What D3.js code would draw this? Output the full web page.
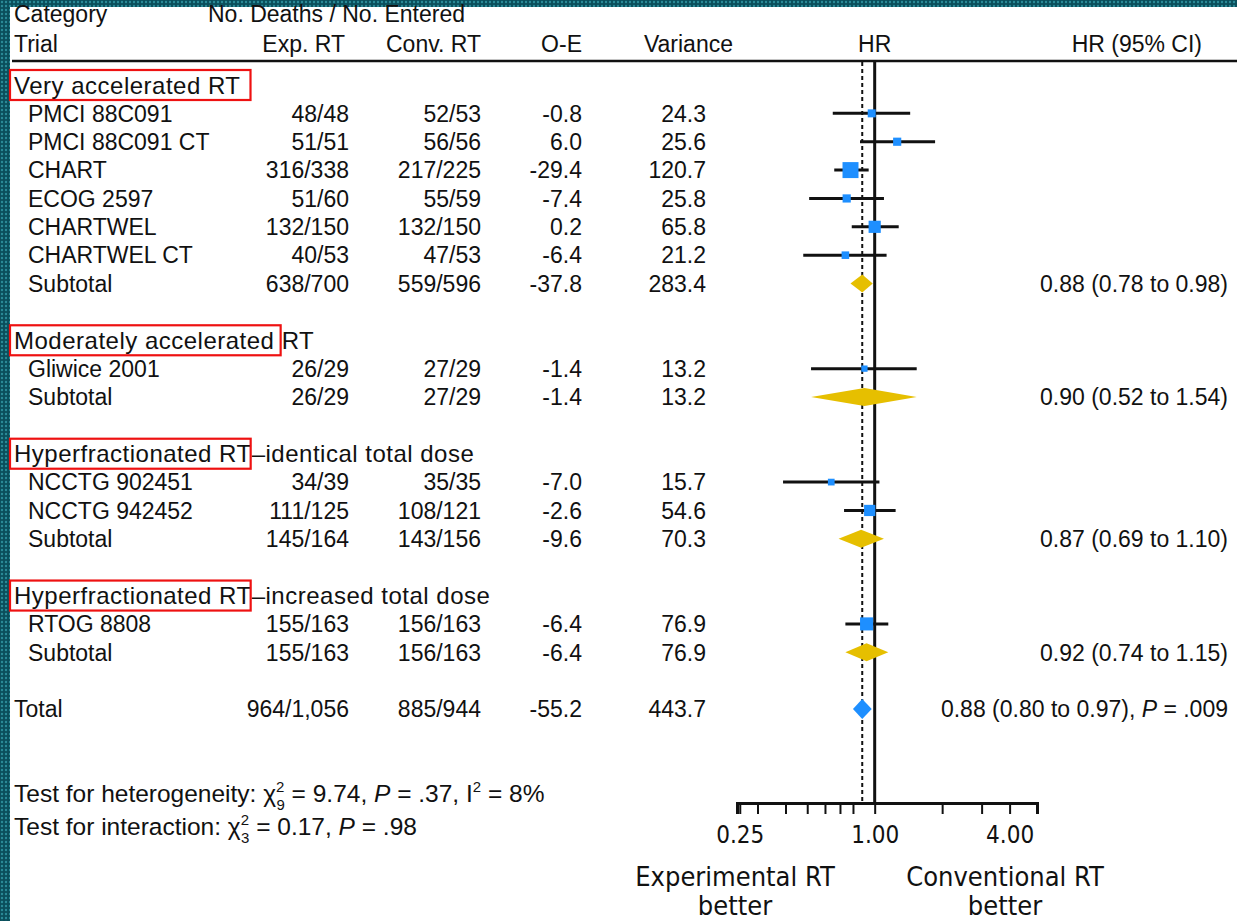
<!DOCTYPE html>
<html>
<head>
<meta charset="utf-8">
<script src="https://cdn.jsdelivr.net/npm/d3@7"></script>
<style>
  html, body { margin: 0; padding: 0; background: #fff; }
  svg { display: block; }
  text { font-family: "Liberation Sans", Arial, sans-serif; fill: #111; white-space: pre; }
  .narrow { font-family: "DejaVu Sans Condensed", "DejaVu Sans", sans-serif; font-stretch: condensed; }
</style>
</head>
<body>
<div id="chart"></div>
<script>
// categories (boxed part + rest of label)
const groupBoxed = ["Very accelerated RT", "Moderately accelerated ", "Hyperfractionated RT", "Hyperfractionated RT"];
const groupRest = ["", "RT", "\u2013identical total dose", "\u2013increased total dose"];

// trials
const trialNames = ["PMCI 88C091", "PMCI 88C091 CT", "CHART", "ECOG 2597", "CHARTWEL", "CHARTWEL CT",
    "Gliwice 2001", "NCCTG 902451", "NCCTG 942452", "RTOG 8808"];
const trialGroup = [0, 0, 0, 0, 0, 0, 1, 2, 2, 3];
const trialExp = ["48/48", "51/51", "316/338", "51/60", "132/150", "40/53", "26/29", "34/39", "111/125", "155/163"];
const trialConv = ["52/53", "56/56", "217/225", "55/59", "132/150", "47/53", "27/29", "35/35", "108/121", "156/163"];
const trialOE = [-0.8, 6.0, -29.4, -7.4, 0.2, -6.4, -1.4, -7.0, -2.6, -6.4];
const trialVar = [24.3, 25.6, 120.7, 25.8, 65.8, 21.2, 13.2, 15.7, 54.6, 76.9];
const trialHR = [0.97, 1.26, 0.78, 0.75, 1.00, 0.74, 0.90, 0.64, 0.95, 0.92];
const trialLo = [0.65, 0.86, 0.66, 0.51, 0.79, 0.48, 0.52, 0.39, 0.73, 0.74];
const trialHi = [1.44, 1.86, 0.94, 1.10, 1.28, 1.13, 1.54, 1.05, 1.24, 1.15];

// subtotals per category
const subExp = ["638/700", "26/29", "145/164", "155/163"];
const subConv = ["559/596", "27/29", "143/156", "156/163"];
const subOE = [-37.8, -1.4, -9.6, -6.4];
const subVar = [283.4, 13.2, 70.3, 76.9];
const subHR = [0.88, 0.90, 0.87, 0.92];
const subLo = [0.78, 0.52, 0.69, 0.74];
const subHi = [0.98, 1.54, 1.10, 1.15];

// total
const totalExp = "964/1,056";
const totalConv = "885/944";
const totalOE = -55.2;
const totalVar = 443.7;
const totalHR = 0.88, totalLo = 0.80, totalHi = 0.97;

// axis ticks
const tickValues = [0.25, 0.3, 0.4, 0.5, 0.6, 0.7, 0.8, 1, 2, 3, 4];
const tickLabels = { 0.25: "0.25", 1: "1.00", 4: "4.00" };

const W = 1237, H = 921;
const blue = "#1e8fff", gold = "#e6bf00";
const fs = 23;

const svg = d3.select("#chart").append("svg").attr("width", W).attr("height", H);

// patterned frame
const defs = svg.append("defs");
const pat = defs.append("pattern").attr("id", "dots").attr("width", 4).attr("height", 4)
    .attr("patternUnits", "userSpaceOnUse");
pat.append("rect").attr("width", 4).attr("height", 4).attr("fill", "#0a4e5b");
pat.append("circle").attr("cx", 2).attr("cy", 2).attr("r", 1.2).attr("fill", "#2a8a98");
svg.append("rect").attr("x", 0).attr("y", 0).attr("width", W).attr("height", 7).attr("fill", "url(#dots)");
svg.append("rect").attr("x", 0).attr("y", 0).attr("width", 10).attr("height", H).attr("fill", "url(#dots)");

// build rows
const rows = [];
groupBoxed.forEach((g, gi) => {
    rows.push({ type: "cat", g: gi });
    trialNames.forEach((t, ti) => { if (trialGroup[ti] === gi) rows.push({ type: "trial", i: ti }); });
    rows.push({ type: "sub", g: gi });
    rows.push({ type: "blank" });
});
rows.push({ type: "total" });

const y = d3.scaleLinear().domain([0, rows.length - 1]).range([85, 709]);
const x = d3.scaleLog().domain([0.243, 5.3]).range([737, 1037]);
const size = d3.scaleSqrt().domain([0, 121]).range([1.5, 16]);

const colExp = 349, colConv = 481, colOE = 582, colVar = 706, colCI = 1228;
const fmt1 = d3.format(".1f");
const fmtOE = v => fmt1(v).replace("\u2212", "-");

function txt(xp, yp, s, anchor) {
    return svg.append("text").attr("x", xp).attr("y", yp).attr("dy", "0.36em")
        .attr("font-size", fs).attr("text-anchor", anchor || "start").text(s);
}

// headers
txt(14, 14, "Category");
txt(14, 44, "Trial");
txt(208, 14, "No. Deaths / No. Entered");
txt(345, 44, "Exp. RT", "end");
txt(481, 44, "Conv. RT", "end");
txt(582, 44, "O-E", "end");
txt(733, 44, "Variance", "end");
txt(x(1), 44, "HR", "middle");
txt(1202, 44, "HR (95% CI)", "end");
svg.append("line").attr("x1", 12).attr("x2", W).attr("y1", 61).attr("y2", 61)
    .attr("stroke", "#111").attr("stroke-width", 2.5);

// reference lines
const axisY = 803;
svg.append("line").attr("x1", x(totalHR)).attr("x2", x(totalHR)).attr("y1", 62).attr("y2", axisY)
    .attr("stroke", "#111").attr("stroke-width", 2).attr("stroke-dasharray", "4,3");
svg.append("line").attr("x1", x(1)).attr("x2", x(1)).attr("y1", 62).attr("y2", axisY)
    .attr("stroke", "#111").attr("stroke-width", 3);

function diamond(hr, lo, hi, yc, h, color) {
    const pts = [[x(lo), yc], [x(hr), yc - h], [x(hi), yc], [x(hr), yc + h]];
    svg.append("path").attr("d", "M" + pts.join("L") + "Z").attr("fill", color);
}

rows.forEach((r, ri) => {
    const yc = y(ri);
    if (r.type === "cat") {
        const t = txt(14, yc, groupBoxed[r.g]).attr("font-size", 24).attr("letter-spacing", 0.5);
        const w = t.node().getComputedTextLength();
        if (groupRest[r.g]) txt(14 + w, yc, groupRest[r.g]).attr("font-size", 24).attr("letter-spacing", 0.5);
        svg.append("rect").attr("x", 10).attr("y", yc - 15).attr("width", w + (r.g === 0 ? 14 : 3))
            .attr("height", 30).attr("fill", "none").attr("stroke", "#ee1111").attr("stroke-width", 2.2);
    } else if (r.type === "trial") {
        const i = r.i;
        txt(28, yc, trialNames[i]);
        txt(colExp, yc, trialExp[i], "end");
        txt(colConv, yc, trialConv[i], "end");
        txt(colOE, yc, fmtOE(trialOE[i]), "end");
        txt(colVar, yc, fmt1(trialVar[i]), "end");
        svg.append("line").attr("x1", x(trialLo[i])).attr("x2", x(trialHi[i])).attr("y1", yc).attr("y2", yc)
            .attr("stroke", "#111").attr("stroke-width", 3);
        const s = size(trialVar[i]);
        svg.append("rect").attr("x", x(trialHR[i]) - s / 2).attr("y", yc - s / 2)
            .attr("width", s).attr("height", s).attr("fill", blue);
    } else if (r.type === "sub") {
        const g = r.g;
        txt(28, yc, "Subtotal");
        txt(colExp, yc, subExp[g], "end");
        txt(colConv, yc, subConv[g], "end");
        txt(colOE, yc, fmtOE(subOE[g]), "end");
        txt(colVar, yc, fmt1(subVar[g]), "end");
        diamond(subHR[g], subLo[g], subHi[g], yc, 9, gold);
        txt(colCI, yc, `${subHR[g].toFixed(2)} (${subLo[g].toFixed(2)} to ${subHi[g].toFixed(2)})`, "end");
    } else if (r.type === "total") {
        txt(14, yc, "Total");
        txt(colExp, yc, totalExp, "end");
        txt(colConv, yc, totalConv, "end");
        txt(colOE, yc, fmtOE(totalOE), "end");
        txt(colVar, yc, fmt1(totalVar), "end");
        diamond(totalHR, totalLo, totalHi, yc, 10, blue);
        const t = txt(colCI, yc, "", "end");
        t.append("tspan").text(`${totalHR.toFixed(2)} (${totalLo.toFixed(2)} to ${totalHi.toFixed(2)}), `);
        t.append("tspan").attr("font-style", "italic").text("P");
        t.append("tspan").text(" = .009");
    }
});

// tests
const tfs = 24.5, sfs = 15;
const t1 = svg.append("text").attr("x", 14).attr("y", 802).attr("font-size", tfs);
t1.append("tspan").text("Test for heterogeneity: \u03c7");
t1.append("tspan").attr("font-size", sfs).attr("dy", -10).text("2");
t1.append("tspan").attr("font-size", sfs).attr("dx", -8).attr("dy", 18).text("9");
t1.append("tspan").attr("dy", -8).text(" = 9.74, ");
t1.append("tspan").attr("font-style", "italic").text("P");
t1.append("tspan").text(" = .37, I");
t1.append("tspan").attr("font-size", sfs).attr("dy", -10).text("2");
t1.append("tspan").attr("dy", 10).text(" = 8%");

const t2 = svg.append("text").attr("x", 14).attr("y", 835).attr("font-size", tfs);
t2.append("tspan").text("Test for interaction: \u03c7");
t2.append("tspan").attr("font-size", sfs).attr("dy", -10).text("2");
t2.append("tspan").attr("font-size", sfs).attr("dx", -8).attr("dy", 18).text("3");
t2.append("tspan").attr("dy", -8).text(" = 0.17, ");
t2.append("tspan").attr("font-style", "italic").text("P");
t2.append("tspan").text(" = .98");

// axis
const axis = svg.append("g").attr("transform", `translate(0,${axisY})`)
    .call(d3.axisBottom(x).tickValues(tickValues).tickSizeOuter(0).tickSize(11)
        .tickFormat(d => tickLabels[d] || ""));
axis.select(".domain").attr("stroke", "#111").attr("stroke-width", 3);
axis.selectAll(".tick line").attr("stroke", "#111").attr("stroke-width", 2);
axis.selectAll(".tick text").attr("class", "narrow").attr("font-size", 24).attr("fill", "#111").attr("dy", "1.1em");

const lab = [["Experimental RT", "better", 735], ["Conventional RT", "better", 1005]];
lab.forEach(([a, b, cx]) => {
    svg.append("text").attr("class", "narrow").attr("x", cx).attr("y", 886).attr("font-size", 27)
        .attr("text-anchor", "middle").text(a);
    svg.append("text").attr("class", "narrow").attr("x", cx).attr("y", 915).attr("font-size", 27)
        .attr("text-anchor", "middle").text(b);
});
</script>
</body>
</html>
